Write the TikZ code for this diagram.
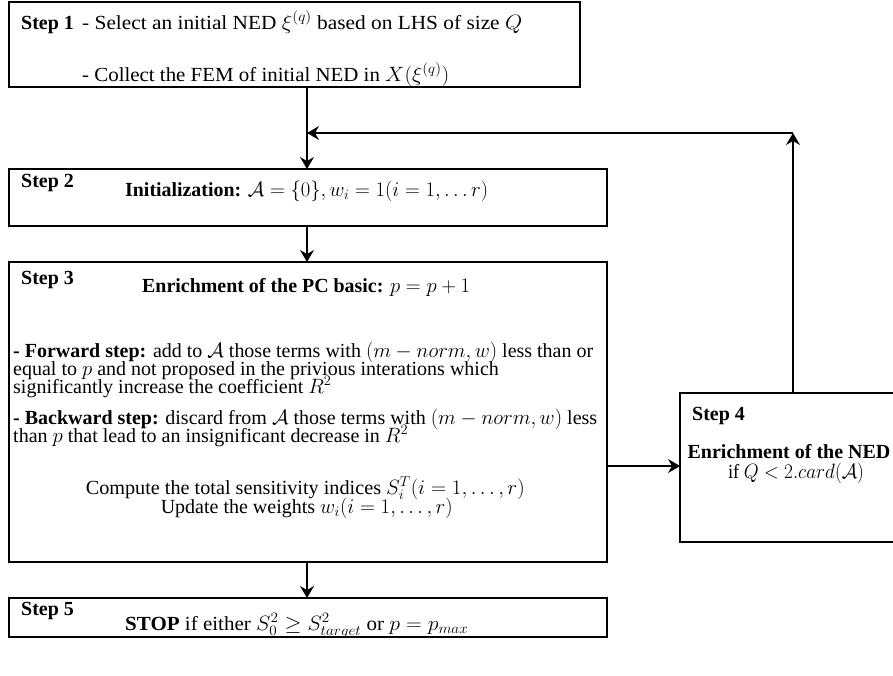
\documentclass[tikz,border=0pt]{standalone}
\usepackage[no-math]{fontspec}
\setmainfont{Liberation Serif}
\usepackage{graphicx}
\usetikzlibrary{arrows.meta}
\newcommand{\fw}[2]{\resizebox{#1pt}{\height}{#2}}
\tikzset{
  box/.style={draw, line width=1.3pt, inner sep=0pt, outer sep=0pt},
  txt/.style={anchor=base west, inner sep=0pt, font=\fontsize{20}{18}\selectfont},
  etxt/.style={anchor=base east, inner sep=0pt, font=\fontsize{20}{18}\selectfont},
  ctxt/.style={anchor=base, inner sep=0pt, font=\fontsize{20}{18}\selectfont},
  arr/.style={line width=1.3pt, -{Stealth[length=12pt,width=14pt,inset=4pt]}}
}
\begin{document}
\begin{tikzpicture}[x=1pt,y=-1pt]
\clip (0,0) rectangle (893,675);
\useasboundingbox (0,0) rectangle (893,675);
% boxes
\node[box, minimum width=571pt, minimum height=85pt] (s1) at (294.5,44.5) {};
\node[box, minimum width=598pt, minimum height=57pt] (s2) at (308,197.5) {};
\node[box, minimum width=598pt, minimum height=300pt] (s3) at (308,412) {};
\node[box, minimum width=598pt, minimum height=39pt] (s5) at (308,617.5) {};
\node[box, minimum width=220pt, minimum height=149pt] (s4) at (790,467.5) {};
% step 1
\node[txt] (l1) at (21,29) {\textbf{Step 1}};
\node[txt] (t1a) at (82,29) {\fw{440}{- Select an initial NED $\xi^{(q)}$ based on LHS of size $Q$}};
\node[txt] (t1b) at (82,81) {\fw{367}{- Collect the FEM of initial NED in $X(\xi^{(q)})$}};
% step 2
\node[txt] (l2) at (21,187) {\textbf{Step 2}};
\node[txt] (t2) at (125,196) {\fw{363}{\textbf{Initialization:} $\mathcal{A}=\{0\}, w_i=1(i=1,\ldots r)$}};
% step 3
\node[txt] (l3) at (21,284) {\textbf{Step 3}};
\node[txt] (t3a) at (142,292) {\fw{328}{\textbf{Enrichment of the PC basic:} $p=p+1$}};
\node[txt] (t3b) at (13,357) {\fw{580}{\textbf{- Forward step:} add to $\mathcal{A}$ those terms with $(m-norm,w)$ less than or}};
\node[txt] (t3c) at (13,375) {equal to $p$ and not proposed in the privious interations which};
\node[txt] (t3d) at (13,393) {significantly increase the coefficient $R^2$};
\node[txt] (t3e) at (13,424) {\fw{584}{\textbf{- Backward step:} discard from $\mathcal{A}$ those terms with $(m-norm,w)$ less}};
\node[txt] (t3f) at (13,442) {than $p$ that lead to an insignificant decrease in $R^2$};
\node[etxt] (t3g) at (525,494) {\fw{439}{Compute the total sensitivity indices $S_i^T(i=1,\ldots,r)$}};
\node[etxt] (t3h) at (453,513) {Update the weights $w_i(i=1,\ldots,r)$};
% step 5
\node[txt] (l5) at (21,615) {\textbf{Step 5}};
\node[txt] (t5) at (125,630) {\fw{343}{\textbf{STOP} if either $S_0^2\geq S^2_{target}$ or $p=p_{max}$}};
% step 4
\node[txt] (l4) at (692,420) {\textbf{Step 4}};
\node[ctxt] (t4a) at (789,458) {\textbf{Enrichment of the NED}};
\node[ctxt] (t4b) at (796,478) {\fw{136}{if $Q<2.card(\mathcal{A})$}};
% connectors
\coordinate (ax) at (307,0);
\coordinate (fb) at (793,133);
\coordinate (yr) at (0,466);
\draw[arr] (ax |- s1.south) -- (ax |- s2.north);
\draw[arr] (ax |- s2.south) -- (ax |- s3.north);
\draw[arr] (ax |- s3.south) -- (ax |- s5.north);
\draw[arr] (s3.east |- yr) -- (s4.west |- yr);
\draw[arr] (s4.north -| fb) -- (fb);
\draw[arr] (fb) -- (ax |- fb);
\end{tikzpicture}
\end{document}
